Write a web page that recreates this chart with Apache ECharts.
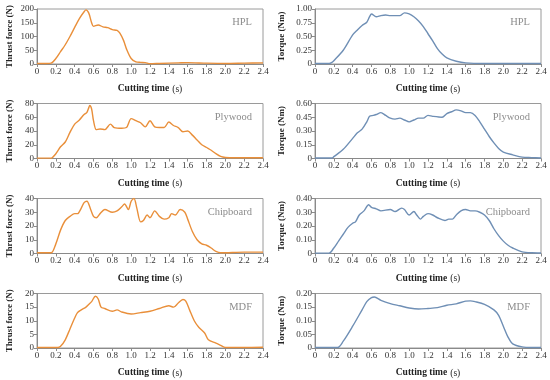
<!DOCTYPE html>
<html><head><meta charset="utf-8">
<script src="https://cdn.jsdelivr.net/npm/echarts@6/dist/echarts.min.js"></script>
<style>html,body{margin:0;padding:0;background:#fff}#c{width:550px;height:380px}</style>
</head><body><div id="c"></div>
<script>
// ---- data ----
const panelLabels = ['HPL', 'Plywood', 'Chipboard', 'MDF'];
const xTicks = [0,0.2,0.4,0.6,0.8,1.0,1.2,1.4,1.6,1.8,2.0,2.2,2.4];

const hplThrustT = [0,0.1,0.15,0.2,0.25,0.3,0.35,0.4,0.45,0.5,0.52,0.55,0.58,0.6,0.65,0.7,0.75,0.8,0.85,0.88,0.92,0.95,1.0,1.05,1.1,1.15,1.2,1.3,1.5,1.6,1.8,2.0,2.2,2.4];
const hplThrustV = [2,2,3,20,45,70,100,133,165,190,197,185,150,137,142,135,132,125,122,112,85,55,20,8,6,5,1,2,4,5,3,2,3,4];

const hplTorqueT = [0,0.1,0.15,0.18,0.2,0.3,0.4,0.45,0.5,0.55,0.58,0.6,0.65,0.7,0.75,0.8,0.9,0.95,1.0,1.05,1.1,1.15,1.2,1.25,1.3,1.35,1.4,1.5,1.6,1.8,2.0,2.4];
const hplTorqueV = [0.01,0.01,0.01,0.03,0.06,0.25,0.53,0.62,0.70,0.76,0.86,0.91,0.86,0.88,0.89,0.88,0.88,0.93,0.91,0.86,0.78,0.68,0.55,0.42,0.28,0.18,0.11,0.05,0.02,0.01,0.01,0.01];

const plyThrustT = [0,0.1,0.15,0.2,0.25,0.3,0.35,0.4,0.45,0.5,0.53,0.55,0.56,0.58,0.6,0.63,0.67,0.72,0.78,0.82,0.9,0.95,1.0,1.05,1.1,1.15,1.2,1.25,1.3,1.35,1.4,1.45,1.5,1.55,1.6,1.65,1.7,1.75,1.8,1.85,1.9,1.95,2.0,2.1,2.4];
const plyThrustV = [0.5,0.5,0.5,7,17,24,38,50,56,64,67,74,77,72,55,42,43,42,50,45,44,45,58,55,52,46,55,46,45,45,53,48,45,39,40,34,27,20,16,12,7,3,1.5,1,1];

const plyTorqueT = [0,0.1,0.18,0.2,0.3,0.4,0.45,0.5,0.55,0.58,0.62,0.65,0.7,0.75,0.8,0.85,0.9,0.95,1.0,1.05,1.1,1.15,1.2,1.25,1.35,1.4,1.45,1.5,1.55,1.6,1.65,1.7,1.75,1.8,1.85,1.9,1.95,2.0,2.1,2.2,2.3,2.4];
const plyTorqueV = [0.005,0.005,0.005,0.02,0.1,0.22,0.28,0.32,0.40,0.46,0.47,0.48,0.50,0.47,0.44,0.43,0.44,0.42,0.40,0.42,0.44,0.44,0.47,0.46,0.45,0.49,0.51,0.53,0.52,0.50,0.50,0.47,0.40,0.32,0.24,0.17,0.11,0.07,0.04,0.015,0.01,0.005];

const chipThrustT = [0,0.1,0.15,0.2,0.25,0.3,0.35,0.4,0.43,0.47,0.5,0.53,0.57,0.6,0.63,0.67,0.72,0.8,0.85,0.9,0.93,0.97,1.0,1.03,1.06,1.1,1.13,1.17,1.2,1.25,1.3,1.35,1.4,1.43,1.47,1.52,1.57,1.6,1.65,1.7,1.75,1.8,1.85,1.9,1.95,2.2,2.4];
const chipThrustV = [0.5,0.5,0.5,7,17,24,27,29,29,33,37,38,32,27,26,29,32,30,31,34,36,32,38,40,33,23,24,28,26,31,27,25,26,29,28,32,30,25,16,10,7,6,4,1.5,0.5,1,1];

const chipTorqueT = [0,0.1,0.15,0.2,0.25,0.3,0.35,0.4,0.43,0.47,0.52,0.57,0.6,0.65,0.7,0.8,0.85,0.92,0.95,1.0,1.05,1.08,1.12,1.15,1.2,1.25,1.3,1.38,1.42,1.46,1.5,1.55,1.6,1.65,1.7,1.75,1.8,1.85,1.9,1.95,2.0,2.05,2.1,2.2,2.3,2.4];
const chipTorqueV = [0.003,0.003,0.003,0.04,0.09,0.14,0.19,0.22,0.23,0.28,0.31,0.355,0.335,0.325,0.31,0.32,0.305,0.33,0.32,0.28,0.305,0.28,0.25,0.27,0.29,0.28,0.26,0.24,0.25,0.25,0.28,0.31,0.32,0.31,0.31,0.30,0.28,0.24,0.18,0.13,0.09,0.06,0.04,0.012,0.005,0.004];

const mdfThrustT = [0,0.1,0.22,0.25,0.3,0.35,0.4,0.43,0.47,0.52,0.55,0.58,0.62,0.65,0.68,0.72,0.8,0.85,0.9,1.0,1.1,1.2,1.3,1.4,1.45,1.5,1.55,1.58,1.62,1.67,1.72,1.78,1.82,1.9,1.95,2.0,2.2,2.4];
const mdfThrustV = [0.2,0.2,0.2,0.6,3,7,11,13,14,15,16,17,19,18,15,14.5,13.5,14,13.2,12.5,13,13.5,14.5,15.5,15,16.5,17.8,17.2,14,10,7.5,5.5,3,1.8,1,0.2,0.2,0.3];

const mdfTorqueT = [0,0.1,0.24,0.3,0.4,0.5,0.55,0.6,0.63,0.7,0.8,0.9,1.0,1.1,1.2,1.3,1.4,1.5,1.6,1.65,1.7,1.8,1.9,1.95,2.0,2.05,2.1,2.2,2.3,2.4];
const mdfTorqueV = [0.002,0.002,0.002,0.025,0.08,0.14,0.17,0.185,0.187,0.175,0.163,0.155,0.147,0.143,0.145,0.148,0.157,0.162,0.172,0.173,0.17,0.16,0.14,0.12,0.08,0.04,0.015,0.004,0.002,0.002];

const thrustMax = [200, 80, 40, 20];
const thrustStep = [50, 20, 10, 5];
const torqueMax = [1.0, 0.6, 0.4, 0.2];
const torqueStep = [0.25, 0.15, 0.10, 0.05];

// ---- build ----
const thrustSets = [[hplThrustT,hplThrustV],[plyThrustT,plyThrustV],[chipThrustT,chipThrustV],[mdfThrustT,mdfThrustV]];
const torqueSets = [[hplTorqueT,hplTorqueV],[plyTorqueT,plyTorqueV],[chipTorqueT,chipTorqueV],[mdfTorqueT,mdfTorqueV]];
const zip = (t, v) => t.map((x, i) => [x, v[i]]);

const FONT = 'Liberation Serif';
const ORANGE = '#E98F3A';
const BLUE = '#6F8FB5';
const tops = [9, 103.5, 198.5, 293.5];
const H = 55;
const lefts = [37, 315];
const W = 226;

const grids = [], xAxes = [], yAxes = [], series = [], titles = [];
let gi = 0;
for (let r = 0; r < 4; r++) {
  for (let c = 0; c < 2; c++) {
    grids.push({left: lefts[c], top: tops[r], width: W, height: H, show: true, borderColor: '#9a9a9a', borderWidth: 1, containLabel: false});
    xAxes.push({
      type: 'value', gridIndex: gi, min: 0, max: 2.4, interval: 0.2,
      name: '{b|Cutting time} {n|(s)}', nameLocation: 'middle', nameGap: 19,
      nameTextStyle: {fontFamily: FONT, color: '#222', rich: {b: {fontWeight: 'bold', fontSize: 9.5, fontFamily: FONT, color:'#222'}, n: {fontSize: 9.5, fontFamily: FONT, color:'#222'}}},
      axisLine: {lineStyle: {color: '#8a8a8a', width: 1}},
      axisTick: {show: true, length: 3, lineStyle: {color: '#8a8a8a'}},
      axisLabel: {fontFamily: FONT, fontSize: 9, color: '#333', margin: 3, formatter: v => v === 0 ? '0' : v.toFixed(1)},
      splitLine: {show: false}
    });
    const isT = c === 0;
    const mx = isT ? thrustMax[r] : torqueMax[r];
    const st = isT ? thrustStep[r] : torqueStep[r];
    yAxes.push({
      type: 'value', gridIndex: gi, min: 0, max: mx, interval: st,
      name: isT ? 'Thrust force (N)' : 'Torque (Nm)', nameLocation: 'middle', nameGap: isT ? 23 : 29,
      nameTextStyle: {fontFamily: FONT, fontWeight: 'bold', fontSize: 9, color: '#222'},
      axisLine: {show: true, lineStyle: {color: '#8a8a8a', width: 1}},
      axisTick: {show: true, length: 3, lineStyle: {color: '#8a8a8a'}},
      axisLabel: {fontFamily: FONT, fontSize: 9, color: '#333', margin: 3, formatter: v => v === 0 ? '0' : (isT ? String(v) : v.toFixed(2))},
      splitLine: {show: false}
    });
    const set = isT ? thrustSets[r] : torqueSets[r];
    series.push({
      type: 'line', xAxisIndex: gi, yAxisIndex: gi, data: zip(set[0], set[1]),
      showSymbol: false, smooth: 0.3, lineStyle: {color: isT ? ORANGE : BLUE, width: 1.4}, itemStyle: {color: isT ? ORANGE : BLUE}
    });
    titles.push({
      text: panelLabels[r], right: 550 - (lefts[c] + W) + 6, top: tops[r] + 3,
      textStyle: {fontFamily: FONT, fontWeight: 'normal', fontSize: 10.5, color: '#8c8c8c'}
    });
    gi++;
  }
}

const chart = echarts.init(document.getElementById('c'), null, {renderer: 'canvas'});
chart.setOption({animation: false, backgroundColor: '#fff', title: titles, grid: grids, xAxis: xAxes, yAxis: yAxes, series: series});
</script></body></html>
